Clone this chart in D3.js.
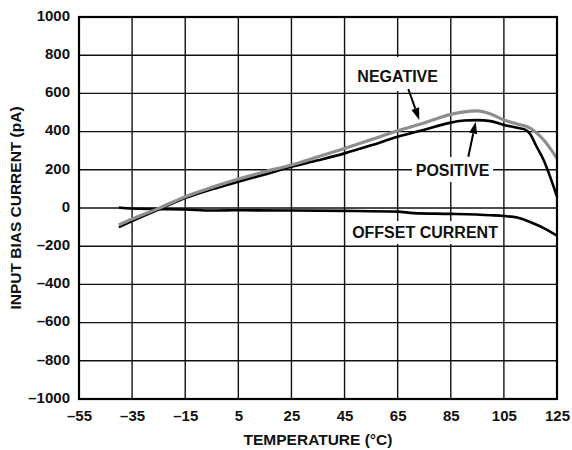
<!DOCTYPE html>
<html><head><meta charset="utf-8">
<script src="https://cdn.jsdelivr.net/npm/d3@7/dist/d3.min.js"></script>
<style>
body{margin:0;background:#fff;}
svg text{font-family:"Liberation Sans",Arial,sans-serif;font-weight:bold;fill:#111;}
</style></head><body>
<svg id="c" width="572" height="450"></svg>
<script>
const xTicks = [-55,-35,-15,5,25,45,65,85,105,125];
const yTicks = [-1000,-800,-600,-400,-200,0,200,400,600,800,1000];
const xTitle = "TEMPERATURE (°C)";
const yTitle = "INPUT BIAS CURRENT (pA)";

const negT = [-40,-35,-25,-15,-5,5,15,25,35,45,55,65,75,85,90,95,100,105,110,115,120,125];
const negV = [-89,-58,-2,59,108,152,190,225,268,312,358,404,445,490,503,508,492,461,440,417,356,260];

const posT = [-40,-35,-25,-15,-5,5,15,25,35,45,55,65,75,85,90,95,100,105,110,113,115,117,120,125];
const posV = [-100,-68,-8,52,98,138,176,216,250,286,328,373,410,447,458,460,455,435,420,410,385,330,250,59];

const offT = [-40,-35,-25,-15,-5,5,25,45,65,71,85,100,105,110,116,120,125];
const offV = [3,-3,-6,-8,-13,-12,-13,-15,-19,-27,-31,-38,-42,-50,-80,-105,-145];

const svg = d3.select("#c");
const L=79,R=557,T=17,B=399;
const x = d3.scaleLinear().domain([-55,125]).range([L,R]);
const y = d3.scaleLinear().domain([-1000,1000]).range([B,T]);

// grid
const g = svg.append("g");
g.selectAll(".vx").data(xTicks.slice(1,-1)).enter().append("line")
 .attr("x1",d=>x(d)).attr("x2",d=>x(d)).attr("y1",T).attr("y2",B)
 .attr("stroke","#111").attr("stroke-width",1.4);
g.selectAll(".hy").data(yTicks.slice(1,-1)).enter().append("line")
 .attr("y1",d=>y(d)).attr("y2",d=>y(d)).attr("x1",L).attr("x2",R)
 .attr("stroke","#111").attr("stroke-width",1.4);

// axes labels via d3 axis
const xa = svg.append("g").attr("transform",`translate(0,${B})`)
 .call(d3.axisBottom(x).tickValues(xTicks).tickSize(0).tickPadding(11).tickFormat(d=>String(d).replace("-","\u2013")));
const ya = svg.append("g").attr("transform",`translate(${L},0)`)
 .call(d3.axisLeft(y).tickValues(yTicks).tickSize(0).tickPadding(9).tickFormat(d=>String(d).replace("-","\u2013")));
[xa,ya].forEach(a=>{a.select(".domain").remove();a.selectAll("text").style("font-size","15px").attr("fill","#111").style("font-family","'Liberation Sans',Arial,sans-serif").style("font-weight","bold");});
ya.selectAll("text").attr("dy","0.22em");

svg.append("text").attr("x",(L+R)/2).attr("y",445).attr("text-anchor","middle").style("font-size","15.5px").text(xTitle);
svg.append("text").attr("transform",`translate(21,${(T+B)/2}) rotate(-90)`).attr("text-anchor","middle").style("font-size","15.5px").text(yTitle);

// curves
const line = d3.line().x(d=>x(d[0])).y(d=>y(d[1])).curve(d3.curveMonotoneX);
const zip=(a,b)=>a.map((t,i)=>[t,b[i]]);
svg.append("path").datum(zip(offT,offV)).attr("d",line).attr("fill","none").attr("stroke","#000").attr("stroke-width",2.6);
svg.append("path").datum(zip(posT,posV)).attr("d",line).attr("fill","none").attr("stroke","#000").attr("stroke-width",2.6);
svg.append("path").datum(zip(negT,negV)).attr("d",line).attr("fill","none").attr("stroke","#8e8e8e").attr("stroke-width",3.2);

// frame
svg.append("rect").attr("x",L).attr("y",T).attr("width",R-L).attr("height",B-T)
 .attr("fill","none").attr("stroke","#000").attr("stroke-width",2.2);

// annotations
function label(txt,cx,by,box){
  svg.append("rect").attr("x",box[0]).attr("y",box[1]).attr("width",box[2]-box[0]).attr("height",box[3]-box[1]).attr("fill","#fff");
  svg.append("text").attr("x",cx).attr("y",by).attr("text-anchor","middle").style("font-size","16px").text(txt);
}
function arrow(x1,y1,x2,y2){
  const ang=Math.atan2(y2-y1,x2-x1), len=12, w=4;
  const bx=x2-len*Math.cos(ang), by=y2-len*Math.sin(ang);
  svg.append("line").attr("x1",x1).attr("y1",y1).attr("x2",bx).attr("y2",by).attr("stroke","#000").attr("stroke-width",2);
  const px=-Math.sin(ang)*w, py=Math.cos(ang)*w;
  svg.append("path").attr("d",`M${x2},${y2}L${bx+px},${by+py}L${bx-px},${by-py}Z`).attr("fill","#000");
}
label("NEGATIVE", x(65), 81.7, [350,57,446,91]);
arrow(408.3,89,419.3,120);
label("POSITIVE", x(85.7), 176, [412,157,493,182]);
arrow(468.3,156.7,475.7,121.7);
label("OFFSET CURRENT", x(75.3), 237.7, [348,221,502,244]);
</script></body></html>
